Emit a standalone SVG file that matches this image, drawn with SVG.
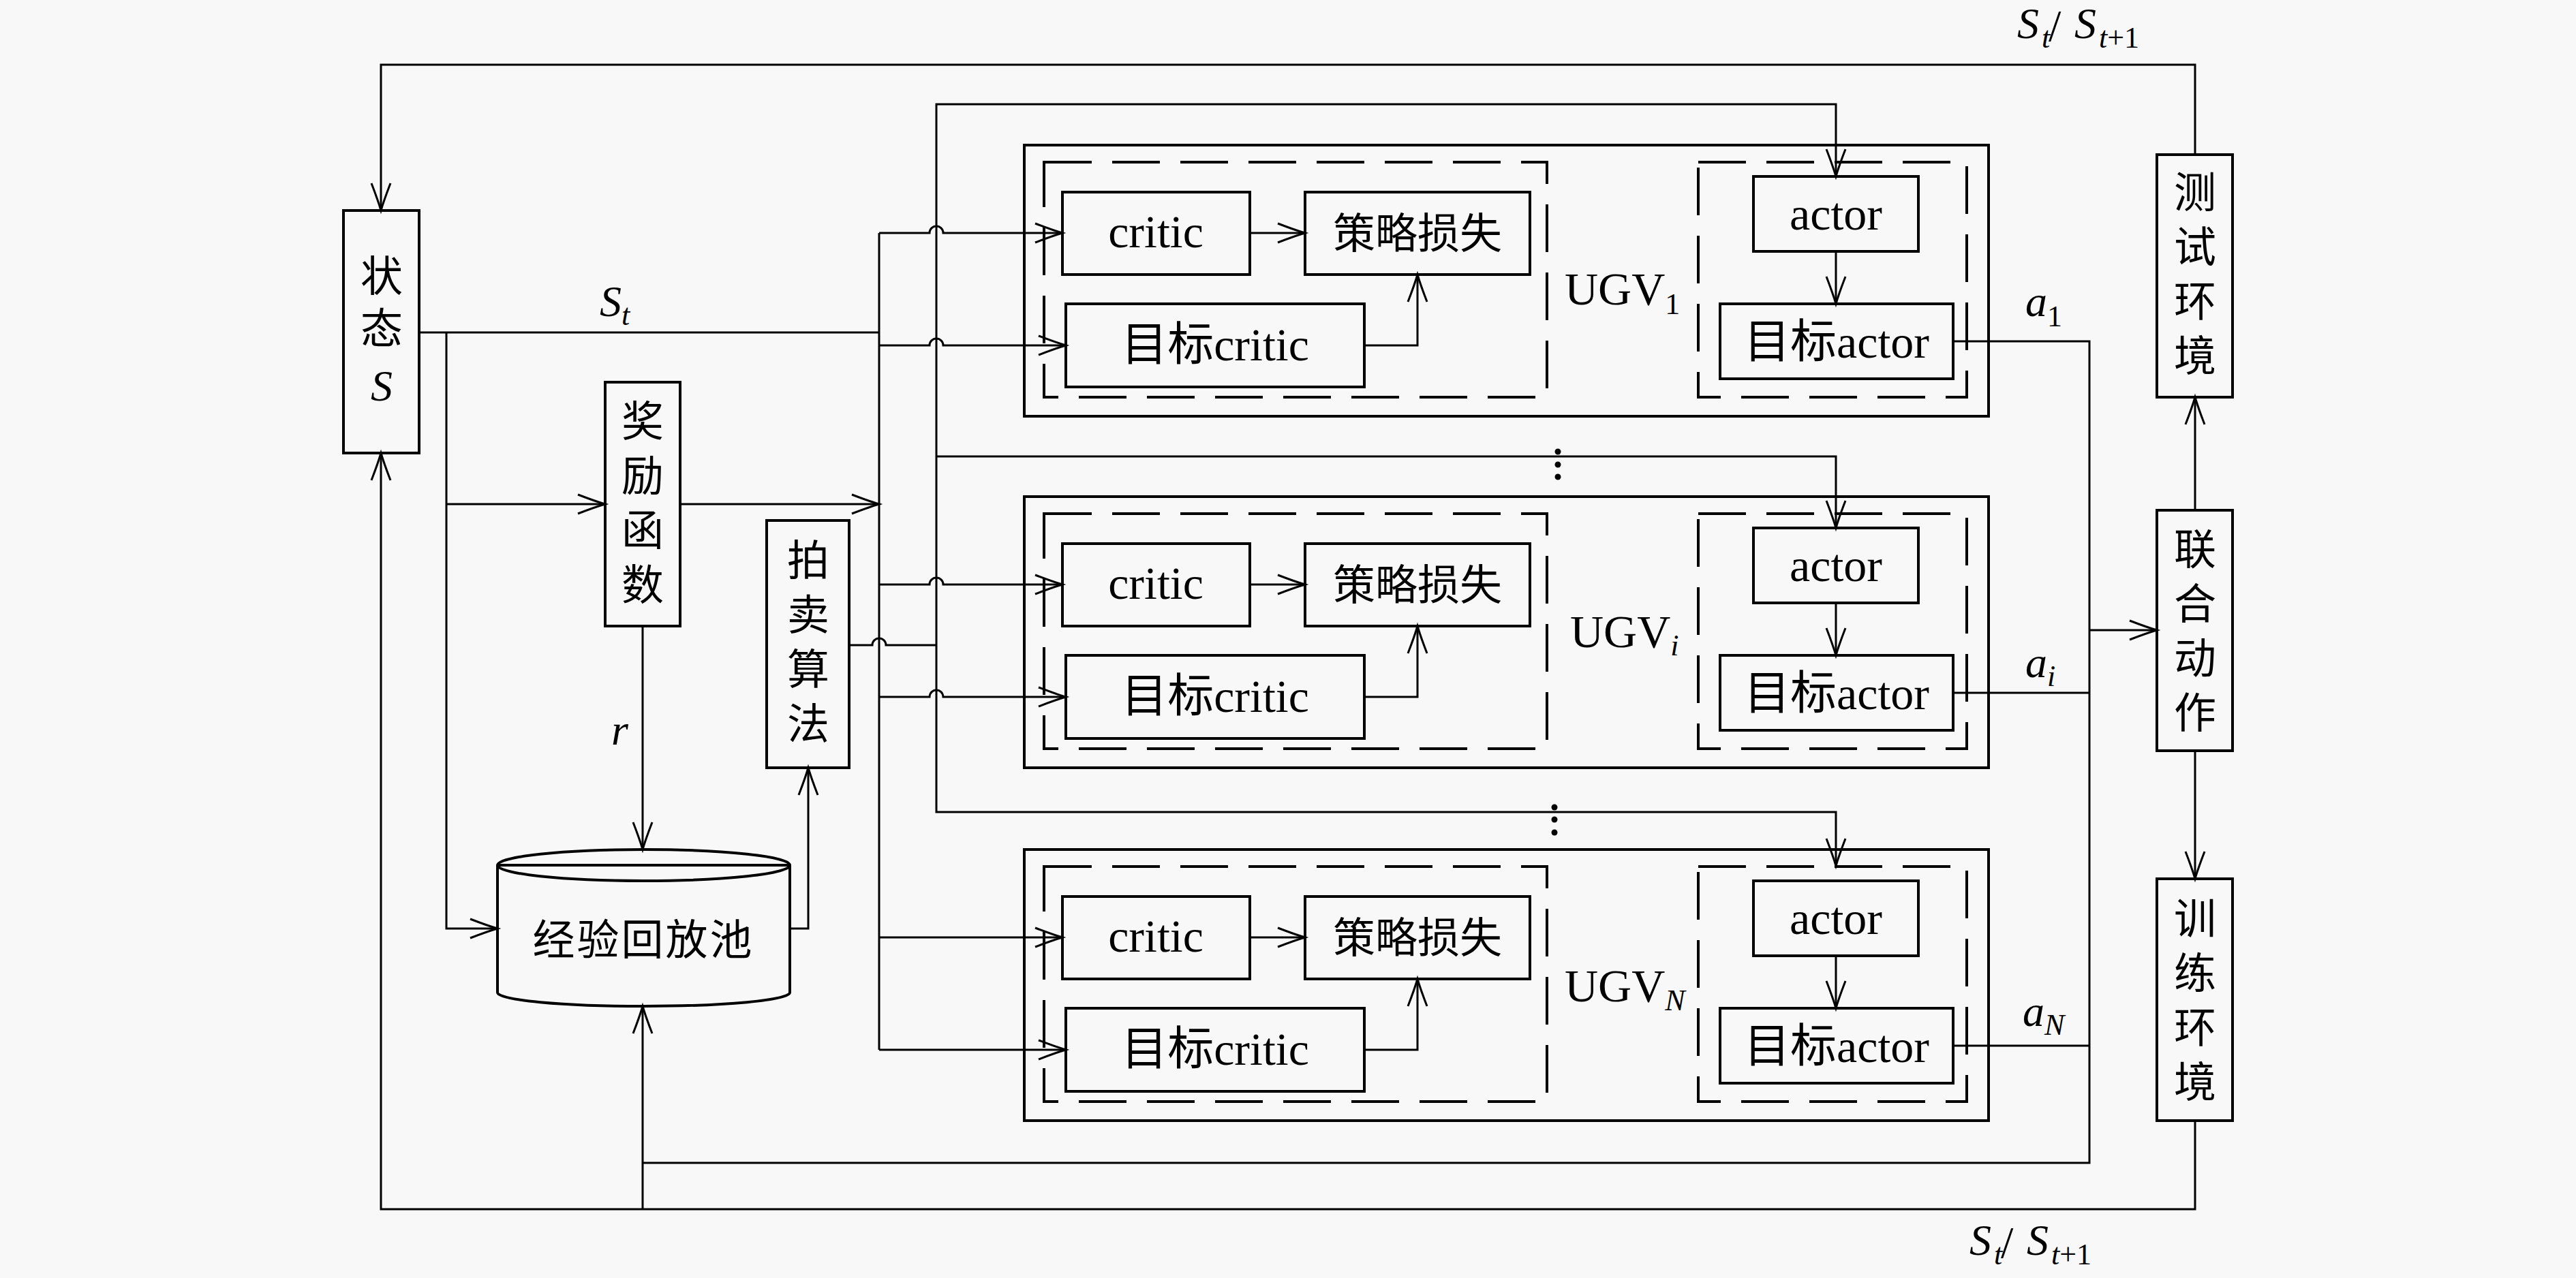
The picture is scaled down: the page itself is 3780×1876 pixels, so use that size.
<svg xmlns="http://www.w3.org/2000/svg" width="3780" height="1876" viewBox="0 0 3780 1876">
<style>
.bg{fill:#f8f8f8}
.box{fill:none;stroke:#000;stroke-width:4}
.ln{fill:none;stroke:#000;stroke-width:3}
.arr{fill:none;stroke:#000;stroke-width:3;marker-end:url(#ah)}
.dash{fill:none;stroke:#000;stroke-width:4;stroke-dasharray:70 30}
.cjk{font-family:"Noto Sans CJK SC",sans-serif;font-size:62px;text-anchor:middle;fill:#000}
.v{writing-mode:vertical-rl;letter-spacing:18px}
.lat{font-family:"Liberation Serif","Noto Sans CJK SC",serif;font-size:68px;text-anchor:middle;fill:#000}
.m{font-family:"Liberation Serif",serif;font-style:italic;font-size:64px;fill:#000}
.ms{font-family:"Liberation Serif",serif;font-style:italic;font-size:44px}
.rs{font-family:"Liberation Serif",serif;font-style:normal;font-size:44px}
.sl{font-family:"Liberation Serif",serif;font-style:normal;font-size:66px}
.ugv{font-family:"Liberation Serif",serif;font-size:68px;fill:#000}
</style>
<defs>
<marker id="ah" markerUnits="userSpaceOnUse" markerWidth="60" markerHeight="40" viewBox="-50 -20 60 40" refX="0" refY="0" orient="auto">
<path d="M-40,-14 Q-14,-4 0,0 Q-14,4 -40,14" fill="none" stroke="#000" stroke-width="3"/>
</marker>
<g id="ugvbody">
<rect class="box" x="1503" y="213" width="1415" height="398"/>
<rect class="dash" x="1532" y="238" width="738" height="345"/>
<rect class="dash" x="2492" y="238" width="394" height="345"/>
<rect class="box" x="1559" y="282" width="275" height="121"/>
<rect class="box" x="1915" y="282" width="330" height="121"/>
<rect class="box" x="1564" y="446" width="438" height="122"/>
<rect class="box" x="2573" y="259" width="242" height="110"/>
<rect class="box" x="2524" y="446" width="342" height="110"/>
<path class="arr" d="M1834 342 H1915"/>
<path class="arr" d="M2002 507 H2080 V403"/>
<path class="arr" d="M2694 369 V446"/>
<text class="lat" x="1696" y="363">critic</text>
<text class="cjk" x="2080" y="365" font-size="64">策略损失</text>
<text class="lat" x="1783" y="529">目标critic</text>
<text class="lat" x="2694" y="337">actor</text>
<text class="lat" x="2695" y="525">目标actor</text>
</g>
</defs>
<rect class="bg" x="0" y="0" width="3780" height="1876"/>

<g id="state">
<rect class="box" x="504" y="309" width="111" height="356"/>
<text class="cjk v" x="560" y="450" style="letter-spacing:15px">状态</text>
<text class="m" x="560" y="588" text-anchor="middle" font-size="66">S</text>
</g>

<g id="reward">
<rect class="box" x="888" y="561" width="110" height="358"/>
<text class="cjk v" x="943" y="746">奖励函数</text>
</g>

<g id="auction">
<rect class="box" x="1125" y="764" width="121" height="363"/>
<text class="cjk v" x="1186" y="950">拍卖算法</text>
</g>

<g id="replay">
<path class="box" d="M730 1270 V1457 A214.5 20 0 0 0 1159 1457 V1270"/>
<ellipse class="box" cx="944.5" cy="1270" rx="214.5" ry="23"/>
<path class="box" d="M730 1270 H1159"/>
<text class="cjk" x="944" y="1402" font-size="64" letter-spacing="3">经验回放池</text>
</g>

<g id="ugv1">
<use href="#ugvbody"/>
<text class="ugv" x="2296" y="447">UGV<tspan class="rs" dy="14">1</tspan></text>
</g>
<g id="ugvi">
<use href="#ugvbody" transform="translate(0,516)"/>
<text class="ugv" x="2304" y="950">UGV<tspan class="ms" dy="12">i</tspan></text>
</g>
<g id="ugvN">
<use href="#ugvbody" transform="translate(0,1034)"/>
<text class="ugv" x="2296" y="1470">UGV<tspan class="ms" dy="13">N</tspan></text>
</g>

<g id="test">
<rect class="box" x="3165" y="227" width="111" height="356"/>
<text class="cjk v" x="3221" y="410">测试环境</text>
</g>
<g id="joint">
<rect class="box" x="3165" y="749" width="111" height="353"/>
<text class="cjk v" x="3221" y="934">联合动作</text>
</g>
<g id="train">
<rect class="box" x="3165" y="1290" width="111" height="355"/>
<text class="cjk v" x="3221" y="1476">训练环境</text>
</g>

<g id="connectors">
<path class="arr" d="M3221 227 V95 H559 V309"/>
<path class="arr" d="M3221 749 V583"/>
<path class="arr" d="M3221 1102 V1290"/>
<path class="arr" d="M3221 1645 V1775 H559 V665"/>
<path class="arr" d="M943 1775 V1477"/>
<path class="ln" d="M2866 501 H3066 V1707 H943"/>
<path class="ln" d="M2866 1017 H3066"/>
<path class="ln" d="M2866 1535 H3066"/>
<path class="arr" d="M3066 925 H3165"/>
<path class="ln" d="M615 488 H1290"/>
<path class="arr" d="M655 488 V1363 H730"/>
<path class="arr" d="M655 740 H888"/>
<path class="arr" d="M998 740 H1290"/>
<path class="arr" d="M943 919 V1247"/>
<path class="arr" d="M1159 1363 H1186 V1127"/>
<path class="ln" d="M1290 342 V1541"/>
<path class="ln" d="M1247 947 H1280 A10 10 0 0 1 1300 947 H1374"/>
<path class="arr" d="M1374 670 V153 H2694 V259"/>
<path class="arr" d="M1374 670 H2694 V775"/>
<path class="arr" d="M1374 670 V1192 H2694 V1271"/>
<path class="arr" d="M1290 342 H1364 A10 10 0 0 1 1384 342 H1559"/>
<path class="arr" d="M1290 507 H1364 A10 10 0 0 1 1384 507 H1564"/>
<path class="arr" d="M1290 858 H1364 A10 10 0 0 1 1384 858 H1559"/>
<path class="arr" d="M1290 1023 H1364 A10 10 0 0 1 1384 1023 H1564"/>
<path class="arr" d="M1290 1376 H1559"/>
<path class="arr" d="M1290 1541 H1564"/>
</g>

<g id="labels">
<text class="m" x="880" y="464">S<tspan class="ms" dy="13">t</tspan></text>
<text class="m" x="897" y="1093">r</text>
<text class="m" x="2972" y="464">a<tspan class="rs" dy="15">1</tspan></text>
<text class="m" x="2972" y="994">a<tspan class="ms" dy="13">i</tspan></text>
<text class="m" x="2968" y="1506">a<tspan class="ms" dy="13">N</tspan></text>
<text class="m" x="2960" y="56" font-size="66">S<tspan class="ms" x="2996" dy="14">t</tspan><tspan class="sl" x="3006" dy="-10">/</tspan><tspan x="3044" dy="-4">S</tspan><tspan class="ms" x="3080" dy="14">t</tspan><tspan class="rs">+1</tspan></text>
<text class="m" x="2890" y="1842" font-size="66">S<tspan class="ms" x="2926" dy="14">t</tspan><tspan class="sl" x="2936" dy="-10">/</tspan><tspan x="2974" dy="-4">S</tspan><tspan class="ms" x="3010" dy="14">t</tspan><tspan class="rs">+1</tspan></text>
<circle cx="2286" cy="663" r="4.5"/>
<circle cx="2286" cy="682" r="4.5"/>
<circle cx="2286" cy="700" r="4.5"/>
<circle cx="2281" cy="1185" r="4.5"/>
<circle cx="2281" cy="1203" r="4.5"/>
<circle cx="2281" cy="1222" r="4.5"/>
</g>
</svg>
